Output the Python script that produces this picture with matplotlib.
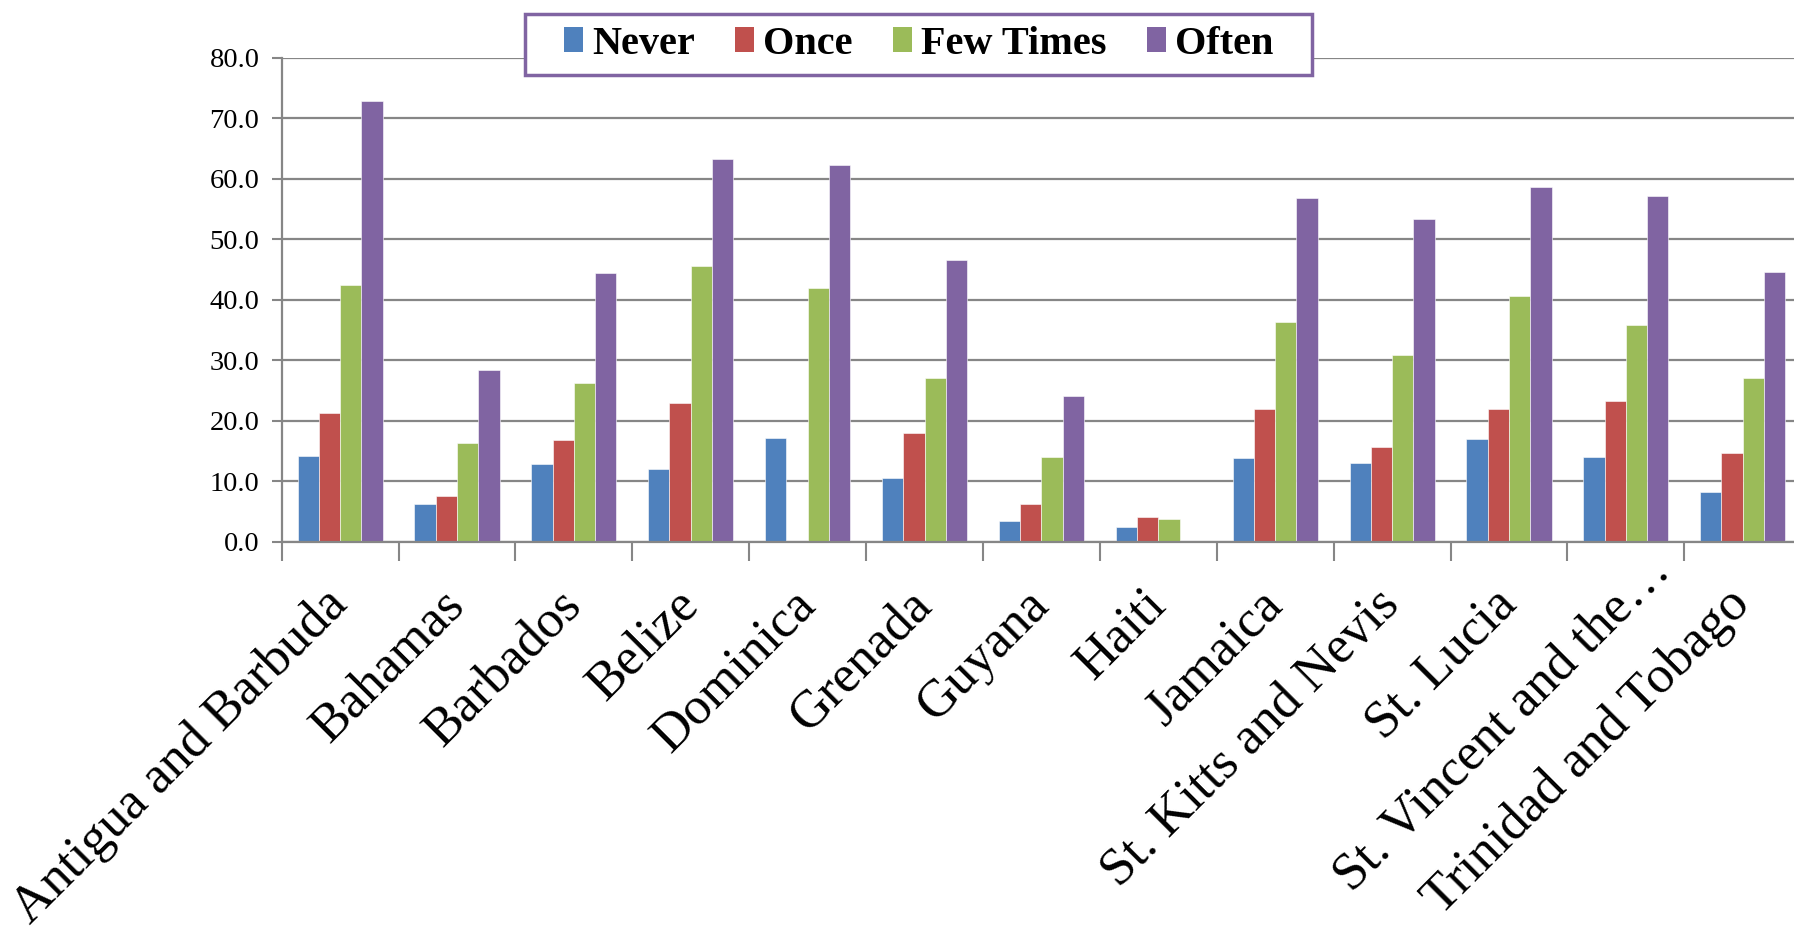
import numpy as np
import matplotlib
matplotlib.use('Agg')
import matplotlib.pyplot as plt
from matplotlib.patches import Patch, Rectangle
from matplotlib.transforms import ScaledTranslation

# ── data ─────────────────────────────────────────────────
countries = ['Antigua and Barbuda', 'Bahamas', 'Barbados', 'Belize', 'Dominica',
             'Grenada', 'Guyana', 'Haiti', 'Jamaica', 'St. Kitts and Nevis',
             'St. Lucia', 'St. Vincent and the\u2026', 'Trinidad and Tobago']
never = [14.2, 6.2, 12.9, 12.0, 17.1, 10.5, 3.4, 2.5, 13.9, 13.0, 17.0, 14.0, 8.2]
once = [21.2, 7.5, 16.8, 22.9, 0.0, 18.0, 6.3, 4.0, 22.0, 15.6, 22.0, 23.3, 14.7]
few_times = [42.5, 16.3, 26.3, 45.6, 41.9, 27.0, 14.0, 3.7, 36.3, 30.8, 40.6, 35.8, 27.1]
often = [72.8, 28.4, 44.4, 63.2, 62.3, 46.5, 24.1, 0.0, 56.8, 53.3, 58.6, 57.1, 44.6]

series = ['Never', 'Once', 'Few Times', 'Often']
colors = ['#4F81BD', '#C0504D', '#9BBB59', '#8064A2']
grid_c = '#868686'

plt.rcParams['font.family'] = ['Liberation Serif', 'DejaVu Serif']

W, H = 1794, 932
fig = plt.figure(figsize=(W / 100, H / 100), dpi=100)
ax = fig.add_axes([0.157, 0.4188, 0.847, 0.5193])

x = np.arange(len(countries))
w = 0.182
for i, (vals, c) in enumerate(zip([never, once, few_times, often], colors)):
    ax.bar(x + (i - 1.5) * w, vals, width=w, color=c, edgecolor='white',
           linewidth=0.4, zorder=3)

ax.set_xlim(-0.5, len(countries) - 0.5)
ax.set_ylim(0, 80)
ax.set_yticks(np.arange(0, 81, 10))
ax.set_yticklabels([f'{v:.1f}' for v in np.arange(0, 81, 10)], fontsize=20.5)
ax.yaxis.grid(True, color=grid_c, linewidth=1.6, zorder=0)
ax.tick_params(axis='y', length=7, width=1.5, color=grid_c, pad=9)

# labels at centres, tick marks at category boundaries
ax.set_xticks(x)
ax.set_xticklabels(countries, rotation=45, ha='right', va='center',
                   rotation_mode='anchor', fontsize=38)
ax.tick_params(axis='x', which='major', length=0, pad=40)
ax.set_xticks(np.arange(-0.5, len(countries), 1), minor=True)
ax.tick_params(axis='x', which='minor', length=14, width=1.5, color=grid_c)

# the truncated label sits further up-right along its line in the original
lbl = ax.get_xticklabels()[11]
lbl.set_transform(lbl.get_transform() + ScaledTranslation(0.37, 0.34, fig.dpi_scale_trans))

for s in ['top', 'right']:
    ax.spines[s].set_visible(False)
for s in ['left', 'bottom']:
    ax.spines[s].set_color(grid_c)
    ax.spines[s].set_linewidth(1.6)
    ax.spines[s].set_zorder(4)

# legend box drawn separately so its padding matches
box_l, box_t, box_r, box_b = 525, 14, 1312, 75
fig.patches.append(Rectangle((box_l / W, 1 - box_b / H), (box_r - box_l) / W,
                             (box_b - box_t) / H, transform=fig.transFigure,
                             facecolor='white', edgecolor='#8064A2',
                             linewidth=2.5, zorder=5))
handles = [Patch(facecolor=c, edgecolor='none') for c in colors]
leg = fig.legend(handles, series, loc='center',
                 bbox_to_anchor=((box_l + box_r) / 2 / W, 1 - (box_t + box_b) / 2 / H),
                 ncol=4, frameon=False, handlelength=0.48, handleheight=0.58,
                 handletextpad=0.22, columnspacing=1.0, borderpad=0.0,
                 prop={'weight': 'bold', 'size': 29})
leg.set_zorder(6)

fig.savefig('out.png', dpi=100)
